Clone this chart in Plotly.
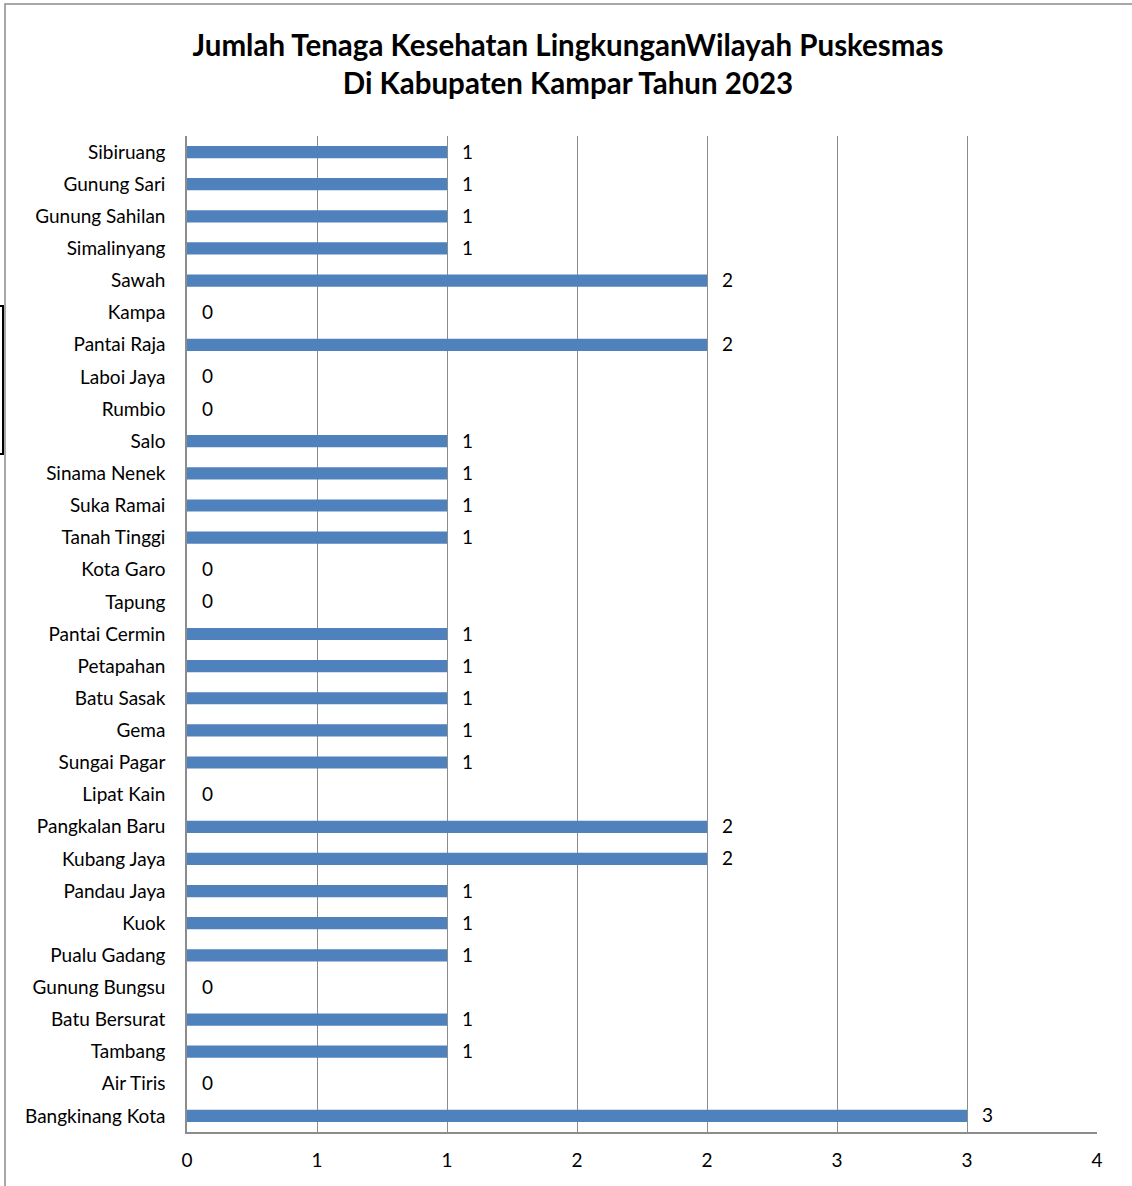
import plotly.graph_objects as go

categories = ["Sibiruang", "Gunung Sari", "Gunung Sahilan", "Simalinyang", "Sawah", "Kampa",
              "Pantai Raja", "Laboi Jaya", "Rumbio", "Salo", "Sinama Nenek", "Suka Ramai",
              "Tanah Tinggi", "Kota Garo", "Tapung", "Pantai Cermin", "Petapahan", "Batu Sasak",
              "Gema", "Sungai Pagar", "Lipat Kain", "Pangkalan Baru", "Kubang Jaya", "Pandau Jaya",
              "Kuok", "Pualu Gadang", "Gunung Bungsu", "Batu Bersurat", "Tambang", "Air Tiris",
              "Bangkinang Kota"]
values = [1, 1, 1, 1, 2, 0, 2, 0, 0, 1, 1, 1, 1, 0, 0, 1, 1, 1, 1, 1, 0, 2, 2, 1, 1, 1, 0, 1, 1, 0, 3]
tick_vals = [0, 0.5, 1, 1.5, 2, 2.5, 3, 3.5]
tick_text = ["0", "1", "1", "2", "2", "3", "3", "4"]

FONT = "Lato"
W, H = 1132, 1186
L, R, T, B = 187, 35, 136, 54
pw, ph = W - L - R, H - T - B

fig = go.Figure()
fig.add_trace(go.Bar(
    x=values, y=categories, orientation="h",
    marker=dict(color="#4F81BD", line=dict(width=0)),
    width=0.38, hoverinfo="x+y",
))

for c, v in zip(categories, values):
    fig.add_annotation(x=v, y=c, text=str(v), showarrow=False, xanchor="left",
                       xshift=13, yshift=1, font=dict(family=FONT, size=19, color="black"))

def px_x(p):
    return (p - L) / pw

def px_y(p):
    return 1 - (p - T) / ph

# outer chart border
fig.add_shape(type="rect", xref="paper", yref="paper",
              x0=px_x(5), x1=px_x(1150), y0=px_y(1200), y1=px_y(4),
              line=dict(color="#8C8C8C", width=1.5), fillcolor="rgba(0,0,0,0)", layer="below")
# small black frame fragment at left edge
fig.add_shape(type="rect", xref="paper", yref="paper",
              x0=px_x(-6), x1=px_x(3), y0=px_y(454), y1=px_y(306),
              line=dict(color="black", width=2), fillcolor="rgba(0,0,0,0)")

fig.update_layout(
    width=W, height=H,
    margin=dict(l=L, r=R, t=T, b=B),
    plot_bgcolor="white", paper_bgcolor="white",
    showlegend=False,
    font=dict(family=FONT, size=19, color="black"),
    title=dict(text="<b>Jumlah Tenaga Kesehatan LingkunganWilayah Puskesmas<br>Di Kabupaten Kampar Tahun 2023</b>",
               x=568 / W, xanchor="center", xref="container",
               y=1 - 56 / H, yanchor="middle", yref="container",
               font=dict(family=FONT, size=29.5, color="black")),
    xaxis=dict(range=[0, 3.5], tickvals=tick_vals, ticktext=tick_text,
               showgrid=True, gridcolor="#8C8C8C", gridwidth=1,
               showline=True, linecolor="#8C8C8C", linewidth=1.5,
               zeroline=False, ticks="", ticklabelstandoff=10,
               tickfont=dict(family=FONT, size=19, color="black")),
    yaxis=dict(autorange="reversed", showgrid=False,
               showline=True, linecolor="#8C8C8C", linewidth=1.5,
               ticks="", ticklabelstandoff=16,
               tickfont=dict(family=FONT, size=19, color="black")),
    bargap=0.6,
)

fig.write_html("out.html", config={"displayModeBar": False},
               post_script="document.body.style.margin='0';")
